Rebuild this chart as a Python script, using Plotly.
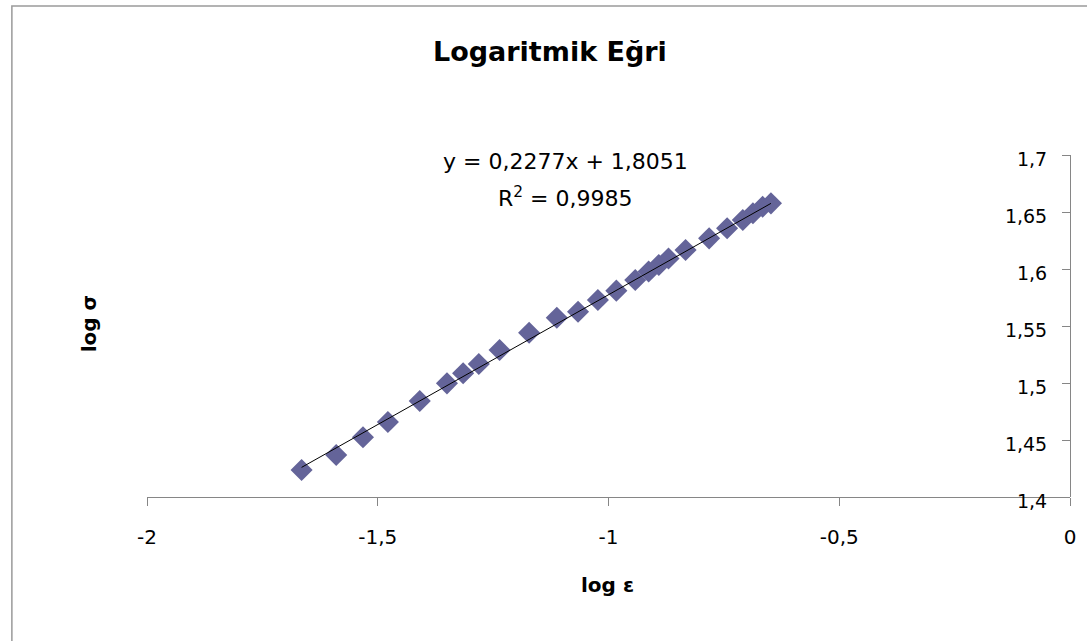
import plotly.graph_objects as go

# Data
log_eps = [-1.665, -1.590, -1.532, -1.478, -1.409, -1.350, -1.315, -1.281, -1.236,
           -1.172, -1.112, -1.066, -1.023, -0.983, -0.942, -0.913, -0.891, -0.870,
           -0.833, -0.782, -0.743, -0.709, -0.687, -0.666, -0.648]
log_sigma = [1.4237, 1.4368, 1.4524, 1.4658, 1.4842, 1.4997, 1.5085, 1.5167, 1.5289,
             1.5441, 1.5573, 1.5625, 1.5728, 1.5810, 1.5904, 1.5978, 1.6035, 1.6092,
             1.6167, 1.6269, 1.6357, 1.6430, 1.6489, 1.6546, 1.6576]

slope = 0.2277
intercept = 1.8051
r2 = 0.9985

x_tickvals = [-2, -1.5, -1, -0.5, 0]
x_ticktext = ["-2", "-1,5", "-1", "-0,5", "0"]
y_tickvals = [1.4, 1.45, 1.5, 1.55, 1.6, 1.65, 1.7]
y_ticktext = ["1,4", "1,45", "1,5", "1,55", "1,6", "1,65", "1,7"]

W, H = 1087, 641
L, R, T, B = 147, 11, 155, 144
PW, PH = W - L - R, H - T - B

def px(x):
    return (x - L) / PW

def py(y):
    return (H - B - y) / PH

FONT = "DejaVu Sans"

trend_x = [min(log_eps), max(log_eps)]
trend_y = [slope * v + intercept for v in trend_x]

fig = go.Figure()
fig.add_trace(go.Scatter(
    x=log_eps, y=log_sigma, mode="markers",
    marker=dict(symbol="diamond", size=17, color="#646499", line=dict(width=0)),
    showlegend=False, cliponaxis=False,
))
fig.add_trace(go.Scatter(
    x=trend_x, y=trend_y, mode="lines",
    line=dict(color="black", width=1), showlegend=False,
))

fig.update_layout(
    width=W, height=H,
    margin=dict(l=L, r=R, t=T, b=B, pad=0),
    paper_bgcolor="white", plot_bgcolor="white",
    font=dict(family=FONT, size=19, color="black"),
    xaxis=dict(
        range=[-2, 0], tickvals=x_tickvals, ticktext=x_ticktext,
        showgrid=False, zeroline=False, showline=True, linecolor="#868686", linewidth=1,
        ticks="outside", ticklen=8, tickcolor="#868686", ticklabelstandoff=14,
        tickfont=dict(family=FONT, size=20),
    ),
    yaxis=dict(
        range=[1.4, 1.7], tickvals=y_tickvals, ticktext=y_ticktext,
        showgrid=False, zeroline=False, showline=True, linecolor="#868686", linewidth=1,
        ticks="outside", ticklen=8, tickcolor="#868686",
        anchor="free", position=1, side="left", ticklabelstandoff=11,
        ticklabelshift=4,
        tickfont=dict(family=FONT, size=19),
    ),
    shapes=[dict(type="rect", xref="paper", yref="paper",
                 x0=px(11), x1=px(1100), y0=py(660), y1=py(6),
                 line=dict(color="#9a9a9a", width=1.5), fillcolor="rgba(0,0,0,0)", layer="below")],
    annotations=[
        dict(text="<b>Logaritmik Eğri</b>", xref="paper", yref="paper",
             x=px(553), y=py(51), showarrow=False, font=dict(family=FONT, size=27),
             xanchor="center", yanchor="middle"),
        dict(text="<b>log ε</b>", xref="paper", yref="paper",
             x=px(610), y=py(585), showarrow=False, font=dict(family=FONT, size=20),
             xanchor="center", yanchor="middle"),
        dict(text="<b>log σ</b>", xref="paper", yref="paper", textangle=-90,
             x=px(89), y=py(324), showarrow=False, font=dict(family=FONT, size=20),
             xanchor="center", yanchor="middle"),
        dict(text="y = 0,2277x + 1,8051", xref="paper", yref="paper",
             x=px(568), y=py(161), showarrow=False, font=dict(family=FONT, size=22),
             xanchor="center", yanchor="middle"),
        dict(text="R<sup>2</sup> = 0,9985", xref="paper", yref="paper",
             x=px(568), y=py(197), showarrow=False, font=dict(family=FONT, size=22),
             xanchor="center", yanchor="middle"),
    ],
)

fig.write_html("out.html")
